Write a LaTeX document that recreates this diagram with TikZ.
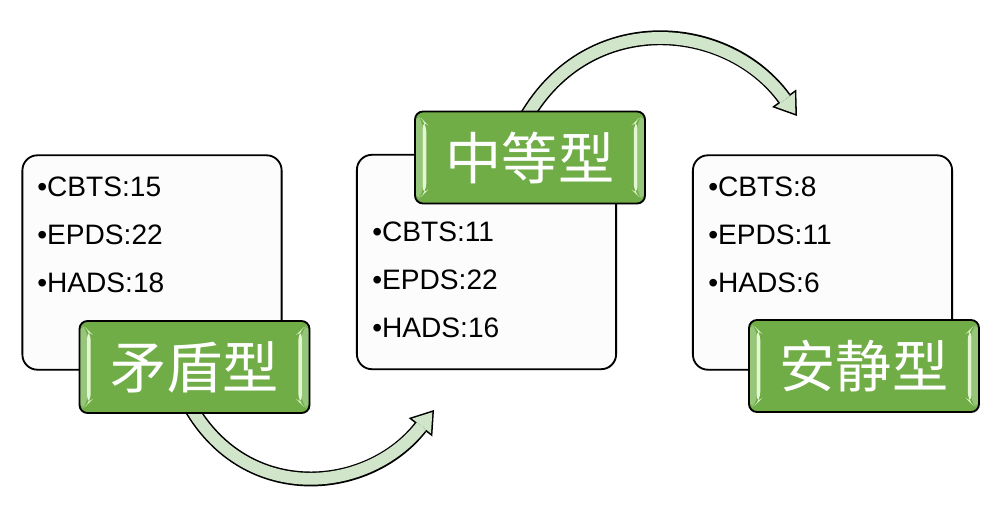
\documentclass[tikz,border=0pt]{standalone}
\usepackage{fontspec}
\setmainfont{Liberation Sans}
\newfontfamily\cjk{Noto Sans CJK SC}
\usepackage{tikz}
\usetikzlibrary{positioning,arrows.meta,backgrounds,shadows}
\usepackage{xcolor}
\definecolor{taggreen}{HTML}{70AD47}
\definecolor{tagmid}{HTML}{96C679}
\definecolor{taglight}{HTML}{E4F5D2}
\definecolor{bandgreen}{HTML}{D0E5C9}
\definecolor{cardfill}{HTML}{FCFCFC}

\begin{document}
\begin{tikzpicture}[
    card/.style={draw=black, line width=1.3pt, fill=cardfill, rounded corners=10.7pt, minimum width=6.48cm, minimum height=5.36cm, inner sep=0pt,
        drop shadow={opacity=0.25, shadow xshift=0.7pt, shadow yshift=-0.7pt}},
    items/.style={align=left, inner sep=0pt, font=\fontsize{20}{33.8}\selectfont},
    tag/.style={draw=black, line width=1.3pt, fill=taggreen, rounded corners=5.7pt, minimum width=5.75cm, minimum height=2.3cm, inner sep=0pt,
        text=white, font=\cjk\fontsize{40}{40}\selectfont,
        drop shadow={opacity=0.25, shadow xshift=0.7pt, shadow yshift=-0.7pt},
        path picture={
            % left bevel
            \fill[tagmid] ([xshift=0.5pt,yshift=-2pt]path picture bounding box.north west) -- ([xshift=5.5pt,yshift=-6pt]path picture bounding box.north west)
                -- ([xshift=5.5pt,yshift=6pt]path picture bounding box.south west) -- ([xshift=0.5pt,yshift=2pt]path picture bounding box.south west) -- cycle;
            \fill[taglight] ([xshift=5.5pt,yshift=-6pt]path picture bounding box.north west) -- ([xshift=8pt,yshift=-8.5pt]path picture bounding box.north west)
                -- ([xshift=8pt,yshift=8.5pt]path picture bounding box.south west) -- ([xshift=5.5pt,yshift=6pt]path picture bounding box.south west) -- cycle;
            % right bevel
            \fill[tagmid] ([xshift=-0.5pt,yshift=-2pt]path picture bounding box.north east) -- ([xshift=-5.5pt,yshift=-6pt]path picture bounding box.north east)
                -- ([xshift=-5.5pt,yshift=6pt]path picture bounding box.south east) -- ([xshift=-0.5pt,yshift=2pt]path picture bounding box.south east) -- cycle;
            \fill[taglight] ([xshift=-5.5pt,yshift=-6pt]path picture bounding box.north east) -- ([xshift=-8pt,yshift=-8.5pt]path picture bounding box.north east)
                -- ([xshift=-8pt,yshift=8.5pt]path picture bounding box.south east) -- ([xshift=-5.5pt,yshift=6pt]path picture bounding box.south east) -- cycle;
        }},
    bandline/.style={line width=10.6pt, draw=black, shorten <=-6pt, -{Triangle[length=15.6pt, width=21.3pt, line width=0pt, fill=black]}},
    bandcore/.style={line width=8.4pt, draw=bandgreen, shorten <=-6pt, shorten >=1.95pt, -{Triangle[length=12.5pt, width=17.1pt, line width=0pt, fill=bandgreen]}},
]
\useasboundingbox (0,0) rectangle (25.15,-13.025);

% Cards with scores
\node[card] (card1) at (3.8,-6.5625) {};
\node[card] (card2) at (12.1625,-6.55) {};
\node[card] (card3) at (20.5625,-6.5625) {};

\node[items, anchor=base west] (list1) at (0.925,-7.3) {•CBTS:15\\•EPDS:22\\•HADS:18};
\node[items, anchor=base west] (list2) at (9.3,-8.425) {•CBTS:11\\•EPDS:22\\•HADS:16};
\node[items, anchor=base west] (list3) at (17.7,-7.3) {•CBTS:8\\•EPDS:11\\•HADS:6};

% Type labels
\node[tag] (lab1) at (4.8625,-9.175) {矛盾型};
\node[tag] (lab2) at (13.25,-3.9375) {中等型};
\node[tag] (lab3) at (21.6,-9.15) {安静型};

% Curved arrows
\coordinate (tip1) at (10.85,-10.25);
\coordinate (tip2) at (19.925,-2.9);
\begin{scope}[on background layer]
\fill[white] (0,0) rectangle (25.15,-13.025);
\foreach \src/\dst/\aout/\ain in {lab1.south/tip1/-60/232, lab2.north/tip2/60/126} {
    \draw[bandline] (\src) to[out=\aout, in=\ain, looseness=1.13] (\dst);
    \draw[bandcore] (\src) to[out=\aout, in=\ain, looseness=1.13] (\dst);
}
\end{scope}

\end{tikzpicture}
\end{document}
